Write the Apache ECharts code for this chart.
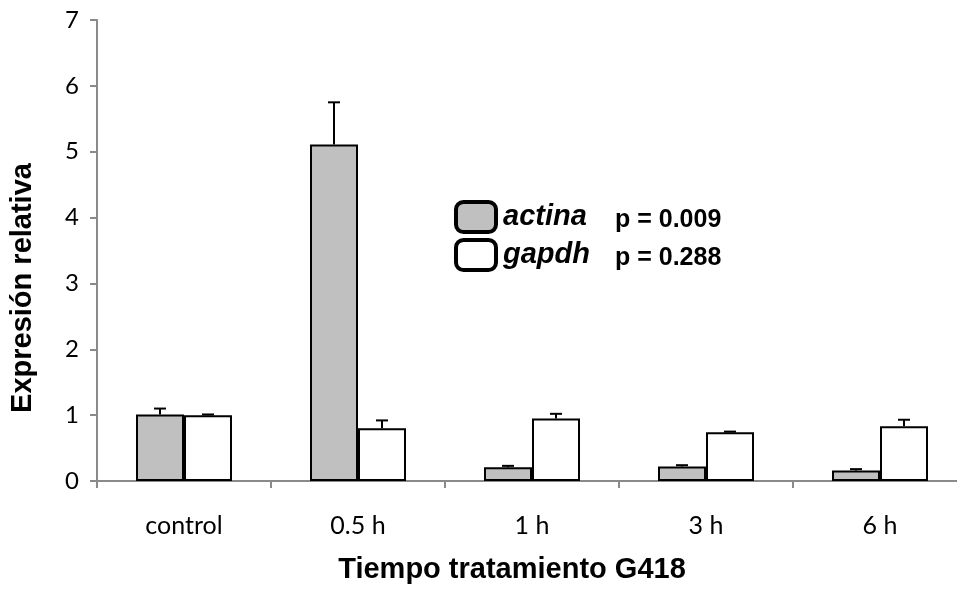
<!DOCTYPE html>
<html>
<head>
<meta charset="utf-8">
<script src="https://cdn.jsdelivr.net/npm/echarts@6/dist/echarts.min.js"></script>
<style>
  html, body { margin: 0; padding: 0; background: #fff; overflow: hidden; }
  /* the category axis runs a bit past the right edge, as in the original */
  #chart { width: 970px; height: 589px; }
</style>
</head>
<body>
<div id="chart"></div>
<script>
const categories = ['control', '0.5 h', '1 h', '3 h', '6 h'];
const actina = [1.01, 5.11, 0.21, 0.22, 0.16];
const actinaErr = [0.09, 0.64, 0.02, 0.02, 0.02];
const gapdh = [1.0, 0.8, 0.95, 0.74, 0.83];
const gapdhErr = [0.01, 0.12, 0.07, 0.01, 0.1];
const pValues = { actina: 'p = 0.009', gapdh: 'p = 0.288' };

const chart = echarts.init(document.getElementById('chart'));
const BAR_W = 48;
const axisGray = '#8a8a8a';

// T-shaped error caps (upper side only)
function errorSeries(name, values, errs, shift) {
    return {
        type: 'custom',
        name: name + '-err',
        z: 5,
        silent: true,
        data: values.map((v, i) => [i, v, v + errs[i]]),
        renderItem: function (params, api) {
            const base = api.coord([api.value(0), api.value(1)]);
            const top = api.coord([api.value(0), api.value(2)]);
            const x = base[0] + shift;
            return {
                type: 'group',
                children: [
                    { type: 'line', shape: { x1: x, y1: base[1], x2: x, y2: top[1] },
                      style: { stroke: '#000', lineWidth: 2 } },
                    { type: 'line', shape: { x1: x - 6, y1: top[1], x2: x + 6, y2: top[1] },
                      style: { stroke: '#000', lineWidth: 2 } }
                ]
            };
        }
    };
}

const option = {
    animation: false,
    grid: { left: 97, top: 20, bottom: 104, right: 3, containLabel: false },
    legend: {
        orient: 'vertical',
        left: 449,
        top: 195,
        itemWidth: 40,
        itemHeight: 30,
        itemGap: 4,
        icon: 'roundRect',
        itemStyle: { borderColor: '#000', borderWidth: 4 },
        data: ['actina', 'gapdh'],
        formatter: function (name) {
            return '{n|' + name + '}{p|' + pValues[name] + '}';
        },
        textStyle: {
            lineHeight: 30,
            rich: {
                n: { fontFamily: 'Liberation Sans', fontStyle: 'italic', fontWeight: 'bold', fontSize: 29, lineHeight: 30, color: '#000', width: 112, padding: [0, 0, 0, 2] },
                p: { fontFamily: 'Liberation Sans', fontWeight: 'bold', fontSize: 25, lineHeight: 30, color: '#000', padding: [6, 0, 0, 0] }
            }
        }
    },
    xAxis: {
        type: 'category',
        data: categories,
        name: 'Tiempo tratamiento G418',
        nameLocation: 'middle',
        nameGap: 74,
        nameTextStyle: { fontFamily: 'Liberation Sans', fontWeight: 'bold', fontSize: 29, color: '#000', padding: [0, 40, 0, 0] },
        axisLine: { lineStyle: { color: axisGray, width: 2 } },
        axisTick: { show: true, length: 7, lineStyle: { color: axisGray, width: 2 } },
        axisLabel: { fontFamily: 'Lato', fontSize: 25, color: '#000', margin: 32 }
    },
    yAxis: {
        type: 'value',
        min: 0,
        max: 7,
        interval: 1,
        name: 'Expresión relativa',
        nameLocation: 'middle',
        nameGap: 60,
        nameTextStyle: { fontFamily: 'Liberation Sans', fontWeight: 'bold', fontSize: 29, color: '#000', padding: [0, 75, 0, 0] },
        axisLine: { show: true, lineStyle: { color: axisGray, width: 2 } },
        axisTick: { show: true, length: 7, lineStyle: { color: axisGray, width: 2 } },
        axisLabel: { fontFamily: 'Lato', fontSize: 24, color: '#000', margin: 18 },
        splitLine: { show: false }
    },
    series: [
        {
            name: 'actina',
            type: 'bar',
            data: actina,
            barWidth: BAR_W,
            barGap: '0%',
            itemStyle: { color: '#c0c0c0', borderColor: '#000', borderWidth: 2 }
        },
        {
            name: 'gapdh',
            type: 'bar',
            data: gapdh,
            barWidth: BAR_W,
            itemStyle: { color: '#fff', borderColor: '#000', borderWidth: 2 }
        },
        errorSeries('actina', actina, actinaErr, -BAR_W / 2),
        errorSeries('gapdh', gapdh, gapdhErr, BAR_W / 2)
    ]
};

chart.setOption(option);
</script>
</body>
</html>
